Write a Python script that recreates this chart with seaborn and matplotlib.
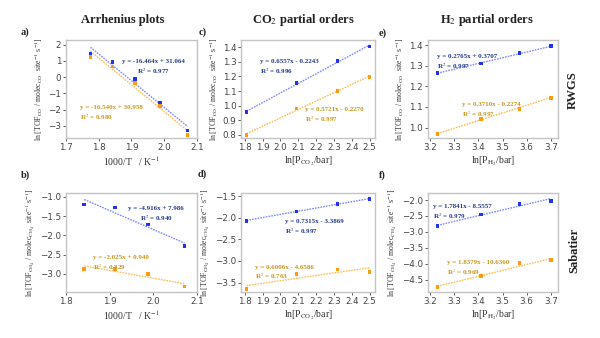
import matplotlib
matplotlib.use("Agg")
import matplotlib.pyplot as plt
import seaborn as sns
import numpy as np
import pandas as pd

# ---- data -----------------------------------------------------------------
inv_T_rwgs = [1.775, 1.842, 1.912, 1.988, 2.072]
inv_T_sab = [1.842, 1.912, 1.988, 2.072]
ln_p_co2 = [1.81, 2.09, 2.32, 2.50]
ln_p_h2 = [3.23, 3.41, 3.57, 3.70]

a_blue = [1.45, 0.95, -0.10, -1.60, -3.30]
a_orange = [1.25, 0.65, -0.35, -1.80, -3.55]
b_blue = [-1.20, -1.28, -1.72, -2.28]
b_orange = [-2.87, -2.87, -3.00, -3.33]
c_blue = [0.955, 1.155, 1.305, 1.405]
c_orange = [0.800, 0.980, 1.100, 1.195]
d_blue = [-2.07, -1.86, -1.68, -1.57]
d_orange = [-3.65, -3.30, -3.20, -3.25]
e_blue = [1.265, 1.310, 1.360, 1.395]
e_orange = [0.970, 1.040, 1.090, 1.145]
f_blue = [-2.82, -2.45, -2.13, -2.02]
f_orange = [-4.72, -4.38, -3.98, -3.88]

# linear fits (slope, intercept, R^2)
a_fit_blue = (-16.464, 31.064, 0.977)
a_fit_orange = (-16.540, 30.958, 0.980)
b_fit_blue = (-4.916, 7.986, 0.940)
b_fit_orange = (-2.025, 0.940, 0.829)
c_fit_blue = (0.6557, -0.2243, 0.996)
c_fit_orange = (0.5721, -0.2270, 0.997)
d_fit_blue = (0.7315, -3.3869, 0.997)
d_fit_orange = (0.6006, -4.6586, 0.763)
e_fit_blue = (0.2765, 0.3707, 0.997)
e_fit_orange = (0.3710, -0.2274, 0.997)
f_fit_blue = (1.7841, -8.5557, 0.979)
f_fit_orange = (1.8379, -10.6360, 0.969)

col_titles = ["Arrhenius plots", "CO$_2$ partial orders", "H$_2$ partial orders"]
row_titles = ["RWGS", "Sabatier"]
panel_tags = ["a)", "c)", "e)", "b)", "d)", "f)"]

# ---- style ----------------------------------------------------------------
sns.set_theme(style="ticks")
plt.rcParams["font.family"] = ["DejaVu Sans"]
plt.rcParams["mathtext.fontset"] = "stix"
SERIF = ["Liberation Serif", "DejaVu Serif"]

BLUE_PT = "#2233ee"
BLUE_LN = "#7d8cff"
BLUE_TX = "#233a8f"
ORG_PT = "#ff9a10"
ORG_LN = "#ffbb55"
ORG_TX = "#c99620"
FRAME = "#c4c4c4"

fig = plt.figure(figsize=(6.0, 3.38), dpi=100)

lefts = [0.110, 0.402, 0.713]
widths = [0.218, 0.223, 0.217]
bottoms = [0.592, 0.136]
heights = [0.290, 0.293]


def fmt_eq(slope, icpt, digits):
    sign = "+" if icpt >= 0 else "-"
    return f"y = {slope:.{digits}f}x {sign} {abs(icpt):.{digits}f}"


panels = [
    # row, col, x, blue, orange, fitB, fitO, digits, xlim, ylim, xticks, yticks, textB, textO
    (0, 0, inv_T_rwgs, a_blue, a_orange, a_fit_blue, a_fit_orange, 3,
     (1.7, 2.1), (-3.75, 2.3), [1.7, 1.8, 1.9, 2.0, 2.1], [-3, -2, -1, 0, 1, 2],
     (0.67, 0.78, "center"), (0.11, 0.31, "left")),
    (0, 1, ln_p_co2, c_blue, c_orange, c_fit_blue, c_fit_orange, 4,
     (1.78, 2.53), (0.78, 1.45), [1.8, 1.9, 2.0, 2.1, 2.2, 2.3, 2.4, 2.5],
     [0.8, 0.9, 1.0, 1.1, 1.2, 1.3, 1.4],
     (0.14, 0.78, "left"), (0.48, 0.29, "left")),
    (0, 2, ln_p_h2, e_blue, e_orange, e_fit_blue, e_fit_orange, 4,
     (3.19, 3.73), (0.95, 1.425), [3.2, 3.3, 3.4, 3.5, 3.6, 3.7],
     [1.0, 1.1, 1.2, 1.3, 1.4],
     (0.07, 0.83, "left"), (0.26, 0.34, "left")),
    (1, 0, inv_T_sab, b_blue, b_orange, b_fit_blue, b_fit_orange, 3,
     (1.8, 2.1), (-3.47, -0.9), [1.8, 1.9, 2.0, 2.1], [-3.0, -2.5, -2.0, -1.5, -1.0],
     (0.69, 0.84, "center"), (0.21, 0.35, "left")),
    (1, 1, ln_p_co2, d_blue, d_orange, d_fit_blue, d_fit_orange, 4,
     (1.78, 2.53), (-3.72, -1.43), [1.8, 1.9, 2.0, 2.1, 2.2, 2.3, 2.4, 2.5],
     [-3.5, -3.0, -2.5, -2.0, -1.5],
     (0.33, 0.71, "left"), (0.10, 0.25, "left")),
    (1, 2, ln_p_h2, f_blue, f_orange, f_fit_blue, f_fit_orange, 4,
     (3.19, 3.73), (-4.88, -1.78), [3.2, 3.3, 3.4, 3.5, 3.6, 3.7],
     [-4.5, -4.0, -3.5, -3.0, -2.5, -2.0],
     (0.04, 0.86, "left"), (0.15, 0.30, "left")),
]

ylabels = [
    r"ln [TOF$_{\mathrm{CO}}$ / molec$_{\mathrm{CO}}$  site$^{-1}$ s$^{-1}$]",
    r"ln [TOF$_{\mathrm{CH_4}}$ / molec$_{\mathrm{CH_4}}$  site$^{-1}$ s$^{-1}$]",
]
xlabels = [
    r"1000/T   / K$^{-1}$",
    r"ln[P$_{\mathrm{CO_2}}$/bar]",
    r"ln[P$_{\mathrm{H_2}}$/bar]",
]

for (row, col, xs, yb, yo, fb, fo, dg, xlim, ylim, xt, yt, tb, to) in panels:
    ax = fig.add_axes([lefts[col], bottoms[row], widths[col], heights[row]])
    x0, x1 = min(xs), max(xs)
    xl = np.array([x0, x1])
    for ys, fit, pc, lc in [(yb, fb, BLUE_PT, BLUE_LN), (yo, fo, ORG_PT, ORG_LN)]:
        line_df = pd.DataFrame({"x": xl, "y": fit[0] * xl + fit[1]})
        sns.lineplot(data=line_df, x="x", y="y", ax=ax, color=lc, lw=1.0,
                     linestyle=(0, (1.2, 0.8)))
        pts = pd.DataFrame({"x": xs, "y": ys})
        sns.scatterplot(data=pts, x="x", y="y", ax=ax, color=pc, marker="s",
                        s=7, edgecolor="none", zorder=3)
    for (fx, fy, ha), fit, tc in [(tb, fb, BLUE_TX), (to, fo, ORG_TX)]:
        ax.text(fx, fy, fmt_eq(fit[0], fit[1], dg), transform=ax.transAxes,
                ha=ha, va="center", fontsize=5, color=tc, fontweight="bold",
                family=SERIF)
        ax.text(fx, fy - 0.095, f"R$^2$ = {fit[2]:.3f}", transform=ax.transAxes,
                ha=ha, va="center", fontsize=5, color=tc, fontweight="bold",
                family=SERIF)
    ax.set_xlim(*xlim)
    ax.set_ylim(*ylim)
    ax.set_xticks(xt)
    ax.set_yticks(yt)
    ax.set_xticklabels([f"{v:.1f}" for v in xt])
    if row == 0 and col == 0:
        ax.set_yticklabels([f"{v:d}".replace("-", "\u2212") for v in yt])
    else:
        ax.set_yticklabels([f"{v:.1f}".replace("-", "\u2212") for v in yt])
    ax.tick_params(labelsize=6.3, length=2, width=0.6, colors="#444444", pad=1.5)
    for sp in ax.spines.values():
        sp.set_color(FRAME)
        sp.set_linewidth(1.0)
    ax.set_xlabel(xlabels[col], fontsize=7, family=SERIF, color="#333333", labelpad=2)
    ax.set_ylabel(ylabels[row], fontsize=5.6, family=SERIF, color="#333333", labelpad=2)

# column titles
for cx, t in zip([0.205, 0.505, 0.812], col_titles):
    fig.text(cx, 0.94, t, ha="center", va="center", fontsize=9, fontweight="bold",
             family=SERIF, color="#222222")

# row titles
fig.text(0.955, 0.734, row_titles[0], rotation=90, ha="center", va="center",
         fontsize=9, fontweight="bold", family=SERIF, color="#222222")
fig.text(0.958, 0.26, row_titles[1], rotation=90, ha="center", va="center",
         fontsize=9, fontweight="bold", family=SERIF, color="#222222")

# panel tags
for (px, py), t in zip([(0.042, 0.905), (0.338, 0.905), (0.638, 0.902),
                        (0.042, 0.482), (0.337, 0.485), (0.638, 0.482)], panel_tags):
    fig.text(px, py, t, ha="center", va="center", fontsize=7.5, fontweight="bold",
             family=SERIF, color="#222222")

fig.savefig("out.png", dpi=100, facecolor="white")
